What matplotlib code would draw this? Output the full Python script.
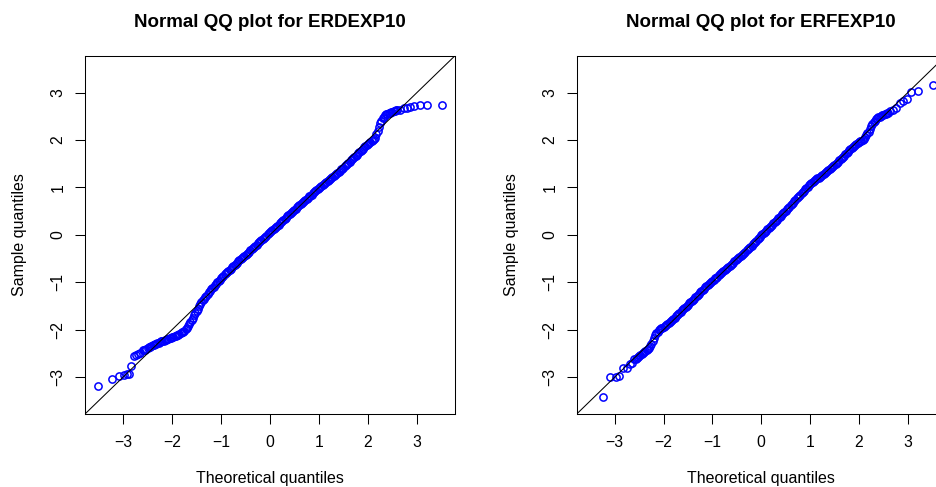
import matplotlib
matplotlib.use("Agg")
import matplotlib.pyplot as plt

plt.rcParams['font.family'] = ['Liberation Sans', 'DejaVu Sans']

# theoretical quantiles for the dense middle part (shared by both panels)
theo = [-2.60, -2.55, -2.50, -2.45, -2.40, -2.35, -2.30, -2.25, -2.20, -2.15,
        -2.10, -2.05, -2.00, -1.95, -1.90, -1.85, -1.80, -1.75, -1.70, -1.65,
        -1.60, -1.55, -1.50, -1.45, -1.40, -1.35, -1.30, -1.25, -1.20, -1.15,
        -1.10, -1.05, -1.00, -0.95, -0.90, -0.85, -0.80, -0.75, -0.70, -0.65,
        -0.60, -0.55, -0.50, -0.45, -0.40, -0.35, -0.30, -0.25, -0.20, -0.15,
        -0.10, -0.05, 0.00, 0.05, 0.10, 0.15, 0.20, 0.25, 0.30, 0.35,
        0.40, 0.45, 0.50, 0.55, 0.60, 0.65, 0.70, 0.75, 0.80, 0.85,
        0.90, 0.95, 1.00, 1.05, 1.10, 1.15, 1.20, 1.25, 1.30, 1.35,
        1.40, 1.45, 1.50, 1.55, 1.60, 1.65, 1.70, 1.75, 1.80, 1.85,
        1.90, 1.95, 2.00, 2.05, 2.10, 2.15, 2.20, 2.25, 2.30, 2.35,
        2.40, 2.45, 2.50, 2.55, 2.60]
theo_mid = [-2.575, -2.525, -2.475, -2.425, -2.375, -2.325, -2.275, -2.225, -2.175, -2.125,
            -2.075, -2.025, -1.975, -1.925, -1.875, -1.825, -1.775, -1.725, -1.675, -1.625,
            -1.575, -1.525, -1.475, -1.425, -1.375, -1.325, -1.275, -1.225, -1.175, -1.125,
            -1.075, -1.025, -0.975, -0.925, -0.875, -0.825, -0.775, -0.725, -0.675, -0.625,
            -0.575, -0.525, -0.475, -0.425, -0.375, -0.325, -0.275, -0.225, -0.175, -0.125,
            -0.075, -0.025, 0.025, 0.075, 0.125, 0.175, 0.225, 0.275, 0.325, 0.375,
            0.425, 0.475, 0.525, 0.575, 0.625, 0.675, 0.725, 0.775, 0.825, 0.875,
            0.925, 0.975, 1.025, 1.075, 1.125, 1.175, 1.225, 1.275, 1.325, 1.375,
            1.425, 1.475, 1.525, 1.575, 1.625, 1.675, 1.725, 1.775, 1.825, 1.875,
            1.925, 1.975, 2.025, 2.075, 2.125, 2.175, 2.225, 2.275, 2.325, 2.375,
            2.425, 2.475, 2.525, 2.575]

# sample quantiles ERDEXP10
erd = [-2.44, -2.42, -2.39, -2.36, -2.33, -2.31, -2.29, -2.26, -2.24, -2.22,
       -2.20, -2.18, -2.16, -2.14, -2.12, -2.09, -2.06, -2.02, -1.96, -1.89,
       -1.80, -1.70, -1.60, -1.51, -1.42, -1.35, -1.28, -1.21, -1.15, -1.09,
       -1.03, -0.97, -0.92, -0.86, -0.81, -0.76, -0.71, -0.66, -0.61, -0.56,
       -0.52, -0.47, -0.43, -0.38, -0.33, -0.28, -0.23, -0.18, -0.13, -0.09,
       -0.04, 0.01, 0.05, 0.10, 0.14, 0.19, 0.24, 0.29, 0.34, 0.39,
       0.44, 0.48, 0.53, 0.58, 0.62, 0.67, 0.72, 0.76, 0.81, 0.85,
       0.90, 0.94, 0.99, 1.03, 1.07, 1.12, 1.16, 1.20, 1.24, 1.29,
       1.33, 1.38, 1.42, 1.47, 1.52, 1.57, 1.62, 1.67, 1.72, 1.77,
       1.82, 1.87, 1.92, 1.96, 2.00, 2.05, 2.20, 2.35, 2.46, 2.52,
       2.56, 2.58, 2.60, 2.62, 2.63]
erd_mid = [-2.43, -2.405, -2.375, -2.345, -2.32, -2.30, -2.275, -2.25, -2.23, -2.21,
           -2.19, -2.17, -2.15, -2.13, -2.105, -2.075, -2.04, -1.99, -1.925, -1.845,
           -1.75, -1.65, -1.555, -1.465, -1.385, -1.315, -1.245, -1.18, -1.12, -1.06,
           -1.00, -0.945, -0.89, -0.835, -0.785, -0.735, -0.685, -0.635, -0.585, -0.54,
           -0.495, -0.45, -0.405, -0.355, -0.305, -0.255, -0.205, -0.155, -0.11, -0.065,
           -0.015, 0.03, 0.075, 0.12, 0.165, 0.215, 0.265, 0.315, 0.365, 0.415,
           0.46, 0.505, 0.555, 0.60, 0.645, 0.695, 0.74, 0.785, 0.83, 0.875,
           0.92, 0.965, 1.01, 1.05, 1.095, 1.14, 1.18, 1.22, 1.265, 1.31,
           1.355, 1.40, 1.445, 1.495, 1.545, 1.595, 1.645, 1.695, 1.745, 1.795,
           1.845, 1.895, 1.94, 1.98, 2.025, 2.12, 2.28, 2.41, 2.49, 2.54,
           2.57, 2.59, 2.61, 2.625]
erd_tail_x = [-3.52, -3.22, -3.08, -2.98, -2.93, -2.88, -2.84, -2.78, -2.74, -2.70,
              -2.66, 2.66, 2.73, 2.79, 2.86, 2.95, 3.07, 3.20, 3.51]
erd_tail_y = [-3.19, -3.05, -2.98, -2.95, -2.94, -2.94, -2.77, -2.56, -2.53, -2.51,
              -2.49, 2.64, 2.67, 2.68, 2.70, 2.71, 2.74, 2.75, 2.75]

# sample quantiles ERFEXP10
erf = [-2.63, -2.60, -2.56, -2.52, -2.47, -2.43, -2.38, -2.30, -2.18, -2.07,
       -2.01, -1.97, -1.94, -1.90, -1.86, -1.81, -1.77, -1.72, -1.67, -1.62,
       -1.57, -1.52, -1.47, -1.42, -1.37, -1.32, -1.27, -1.21, -1.16, -1.11,
       -1.06, -1.01, -0.97, -0.92, -0.88, -0.83, -0.79, -0.74, -0.70, -0.65,
       -0.61, -0.56, -0.52, -0.47, -0.43, -0.38, -0.33, -0.28, -0.23, -0.17,
       -0.12, -0.06, -0.01, 0.04, 0.09, 0.14, 0.19, 0.24, 0.29, 0.35,
       0.40, 0.46, 0.51, 0.57, 0.62, 0.68, 0.74, 0.80, 0.85, 0.91,
       0.96, 1.02, 1.07, 1.11, 1.15, 1.19, 1.22, 1.26, 1.30, 1.34,
       1.38, 1.43, 1.47, 1.52, 1.57, 1.62, 1.67, 1.73, 1.78, 1.83,
       1.88, 1.92, 1.96, 1.99, 2.03, 2.10, 2.18, 2.30, 2.38, 2.44,
       2.48, 2.51, 2.53, 2.56, 2.58]
erf_mid = [-2.615, -2.58, -2.54, -2.495, -2.45, -2.405, -2.34, -2.24, -2.12, -2.04,
           -1.99, -1.955, -1.92, -1.88, -1.835, -1.79, -1.745, -1.695, -1.645, -1.595,
           -1.545, -1.495, -1.445, -1.395, -1.345, -1.295, -1.24, -1.185, -1.135, -1.085,
           -1.035, -0.99, -0.945, -0.90, -0.855, -0.81, -0.765, -0.72, -0.675, -0.63,
           -0.585, -0.54, -0.495, -0.45, -0.405, -0.355, -0.305, -0.255, -0.20, -0.145,
           -0.09, -0.035, 0.015, 0.065, 0.115, 0.165, 0.215, 0.265, 0.32, 0.375,
           0.43, 0.485, 0.54, 0.595, 0.65, 0.71, 0.77, 0.825, 0.88, 0.935,
           0.99, 1.045, 1.09, 1.13, 1.17, 1.205, 1.24, 1.28, 1.32, 1.36,
           1.405, 1.45, 1.495, 1.545, 1.595, 1.645, 1.70, 1.755, 1.805, 1.855,
           1.90, 1.94, 1.975, 2.01, 2.065, 2.14, 2.24, 2.34, 2.41, 2.46,
           2.495, 2.52, 2.545, 2.57]
erf_tail_x = [-3.24, -3.10, -2.98, -2.91, -2.84, -2.76, -2.69, -2.64,
              2.64, 2.70, 2.77, 2.84, 2.91, 2.98, 3.06, 3.22, 3.52]
erf_tail_y = [-3.42, -3.00, -3.00, -2.97, -2.80, -2.80, -2.73, -2.70,
              2.61, 2.64, 2.67, 2.79, 2.82, 2.86, 3.01, 3.03, 3.17]

ticks = [-3, -2, -1, 0, 1, 2, 3]
lim = 3.78


def qq_panel(ax, xs, ys, title):
    # open blue circles like R's pch=1
    for x, y in zip(xs, ys):
        ax.plot(x, y, linestyle='none', marker='o', markersize=5.2, markerfacecolor='none',
                markeredgecolor='#0000ff', markeredgewidth=1.1)
    ax.axline((0, 0), slope=1, color='black', linewidth=0.75, zorder=3)
    ax.set_xlim(-lim, lim)
    ax.set_ylim(-lim, lim)
    ax.set_xticks(ticks)
    ax.set_yticks(ticks)
    ax.tick_params(direction='out', length=7, width=0.75, labelsize=11.3)
    ax.tick_params(axis='x', pad=8)
    ax.tick_params(axis='y', pad=7)
    for lab in ax.get_yticklabels():
        lab.set_rotation(90)
        lab.set_verticalalignment('center')
    for sp in ax.spines.values():
        sp.set_linewidth(0.75)
    ax.set_title(title, fontsize=13.5, fontweight='bold', pad=21)
    ax.set_xlabel("Theoretical quantiles", fontsize=11.5)
    ax.set_ylabel("Sample quantiles", fontsize=11.5)
    ax.xaxis.set_label_coords(0.5, -0.16)
    ax.yaxis.set_label_coords(-0.156, 0.5)


fig = plt.figure(figsize=(9.37, 4.87), dpi=100)
ax1 = fig.add_axes([0.0907, 0.1499, 0.3949, 0.7357])
ax2 = fig.add_axes([0.6155, 0.1499, 0.3939, 0.7357])

qq_panel(ax1, [theo, theo_mid, erd_tail_x], [erd, erd_mid, erd_tail_y],
         "Normal QQ plot for ERDEXP10")
qq_panel(ax2, [theo, theo_mid, erf_tail_x], [erf, erf_mid, erf_tail_y],
         "Normal QQ plot for ERFEXP10")

fig.savefig("out.png", dpi=100)
